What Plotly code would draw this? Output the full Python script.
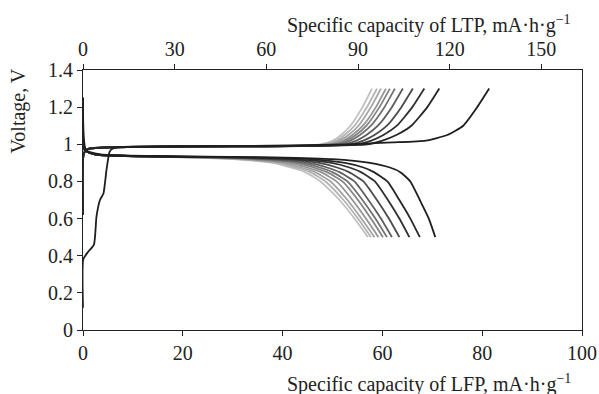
import plotly.graph_objects as go

# ---------------- data ----------------
# cycle colours: cycle 1 (darkest) ... cycle 11 (lightest)
cycle_colors = ['#1e1e1e', '#262626', '#303030', '#4a4a4a', '#5e5e5e', '#727272',
                '#848484', '#949494', '#a4a4a4', '#b2b2b2', '#c0c0c0']

# first charge (cycle 1), LFP capacity (mA·h/g) and voltage (V)
charge1_cap = [0.0, 0.05, 1.0, 2.2, 2.7, 3.4, 4.1, 4.7, 5.3, 5.8, 7.4, 30.0, 53.0, 62.0, 68.7, 73.0, 76.2, 79.0, 81.4]
charge1_v   = [0.12, 0.38, 0.42, 0.46, 0.61, 0.70, 0.735, 0.86, 0.958, 0.975, 0.985, 0.99, 1.0, 1.01, 1.02, 1.05, 1.10, 1.20, 1.30]

# charge curves of cycles 2..11: capacity at common voltage levels
charge_v = [0.62, 0.95, 0.975, 0.99, 1.0, 1.02, 1.05, 1.10, 1.20, 1.30]
charge_caps = [
    [0, 0.15, 1.0, 44.0, 57.0, 60.0, 62.8, 65.8, 69.0, 71.4],
    [0, 0.15, 1.0, 43.0, 55.0, 57.8, 60.2, 62.9, 66.0, 68.4],
    [0, 0.15, 1.0, 42.5, 53.6, 56.2, 58.4, 60.9, 63.8, 66.1],
    [0, 0.15, 1.0, 42.0, 52.3, 54.8, 56.8, 59.1, 61.9, 64.1],
    [0, 0.15, 1.0, 41.5, 51.2, 53.6, 55.5, 57.7, 60.4, 62.5],
    [0, 0.15, 1.0, 41.0, 50.5, 52.8, 54.7, 56.8, 59.4, 61.5],
    [0, 0.15, 1.0, 40.7, 49.9, 52.2, 54.0, 56.1, 58.7, 60.7],
    [0, 0.15, 1.0, 40.3, 49.1, 51.4, 53.2, 55.2, 57.7, 59.7],
    [0, 0.15, 1.0, 40.0, 48.3, 50.8, 52.4, 54.4, 56.9, 58.9],
    [0, 0.15, 1.0, 39.5, 47.5, 50.1, 51.7, 53.6, 56.0, 57.9],
]

# discharge curves of cycles 1..11: capacity at common voltage levels
discharge_v = [1.25, 0.97, 0.945, 0.93, 0.92, 0.90, 0.875, 0.85, 0.80, 0.70, 0.60, 0.50]
discharge_caps = [
    [0, 0.6, 3.5, 38.0, 50.0, 57.5, 61.5, 63.6, 65.6, 67.5, 69.3, 70.6],
    [0, 0.3, 2.5, 33.0, 45.0, 52.5, 56.2, 58.3, 61.0, 63.4, 65.6, 67.5],
    [0, 0.3, 2.5, 30.0, 42.0, 49.8, 53.4, 55.7, 58.5, 61.1, 63.4, 65.4],
    [0, 0.3, 2.5, 28.0, 39.5, 47.3, 50.9, 53.3, 56.2, 58.9, 61.3, 63.4],
    [0, 0.3, 2.5, 26.0, 37.5, 45.3, 48.9, 51.4, 54.4, 57.2, 59.7, 61.9],
    [0, 0.3, 2.5, 25.0, 36.0, 43.8, 47.4, 50.0, 53.0, 56.0, 58.6, 60.9],
    [0, 0.3, 2.5, 24.0, 34.5, 42.6, 46.2, 48.9, 52.0, 55.1, 57.7, 60.1],
    [0, 0.3, 2.5, 23.0, 33.2, 41.3, 44.9, 47.7, 50.8, 54.0, 56.7, 59.2],
    [0, 0.3, 2.5, 22.0, 32.0, 40.0, 43.7, 46.5, 49.6, 53.0, 55.8, 58.4],
    [0, 0.3, 2.5, 21.0, 31.0, 39.0, 42.6, 45.5, 48.6, 52.2, 55.1, 57.7],
    [0, 0.3, 2.5, 20.0, 30.0, 38.0, 41.6, 44.5, 47.6, 51.4, 54.4, 57.1],
]

lfp_ticks = [0, 20, 40, 60, 80, 100]
ltp_ticks = [0, 30, 60, 90, 120, 150]
volt_ticks = [0, 0.2, 0.4, 0.6, 0.8, 1.0, 1.2, 1.4]
volt_labels = ['0', '0.2', '0.4', '0.6', '0.8', '1', '1.2', '1.4']

# ---------------- figure ----------------
FONT = 'Liberation Serif, Times New Roman, serif'
FS = 20
fig = go.Figure()

n = len(cycle_colors)
for i in reversed(range(n)):
    col = cycle_colors[i]
    fig.add_trace(go.Scatter(x=discharge_caps[i], y=discharge_v, mode='lines',
                             line=dict(color=col, width=1.8, shape='spline', smoothing=0.5),
                             showlegend=False, hoverinfo='skip'))
    if i == 0:
        cx, cy = charge1_cap, charge1_v
    else:
        cx, cy = charge_caps[i - 1], charge_v
    fig.add_trace(go.Scatter(x=cx, y=cy, mode='lines',
                             line=dict(color=col, width=1.8, shape='spline', smoothing=0.5),
                             showlegend=False, hoverinfo='skip'))

# invisible trace to activate the top axis
fig.add_trace(go.Scatter(x=[0], y=[0], xaxis='x2', mode='markers',
                         marker=dict(opacity=0), showlegend=False, hoverinfo='skip'))

axis_common = dict(showgrid=False, zeroline=False, showline=True, linecolor='#222',
                   linewidth=1.2, ticks='outside', ticklen=5, tickcolor='#222',
                   tickwidth=1.2, automargin=False,
                   tickfont=dict(family=FONT, size=FS, color='#222'))

fig.update_layout(
    width=599, height=394,
    margin=dict(l=83, r=17, t=70, b=64),
    paper_bgcolor='white', plot_bgcolor='white',
    xaxis=dict(range=[0, 100], tickvals=lfp_ticks, **axis_common),
    xaxis2=dict(range=[0, 163.3], tickvals=ltp_ticks, overlaying='x', side='top',
                anchor='y', **axis_common),
    yaxis=dict(range=[0, 1.4], tickvals=volt_ticks, ticktext=volt_labels,
               mirror=True, **axis_common),
    annotations=[
        dict(text='Specific capacity of LFP, mA·h·g<sup>−1</sup>', xref='paper', yref='paper',
             x=1.0, y=0, xanchor='right', yanchor='middle', yshift=-53, xshift=-9,
             showarrow=False, font=dict(family=FONT, size=FS, color='#222')),
        dict(text='Specific capacity of LTP, mA·h·g<sup>−1</sup>', xref='paper', yref='paper',
             x=1.0, y=1, xanchor='right', yanchor='middle', yshift=46, xshift=-9,
             showarrow=False, font=dict(family=FONT, size=FS, color='#222')),
        dict(text='Voltage, V', xref='paper', yref='paper', x=0, y=1,
             xanchor='center', yanchor='top', xshift=-65, yshift=3, textangle=-90,
             showarrow=False, font=dict(family=FONT, size=FS, color='#222')),
    ],
)

fig.write_html('out.html', config={'displayModeBar': False},
               post_script="document.body.style.margin='0';document.body.style.padding='0';")
